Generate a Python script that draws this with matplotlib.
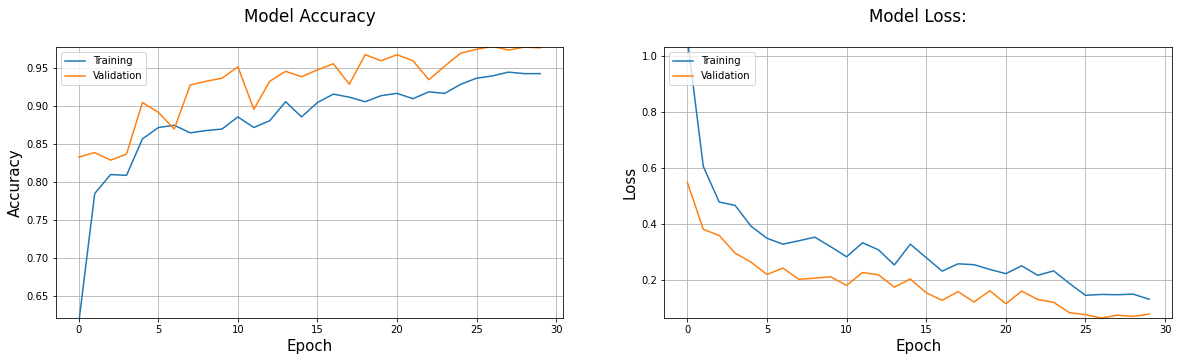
import matplotlib
matplotlib.use('Agg')
import matplotlib.pyplot as plt

epochs = list(range(30))

train_acc = [0.615, 0.785, 0.810, 0.809, 0.857, 0.872, 0.875, 0.865, 0.868, 0.870,
             0.886, 0.872, 0.881, 0.906, 0.886, 0.905, 0.916, 0.912, 0.906, 0.914,
             0.917, 0.910, 0.919, 0.917, 0.929, 0.937, 0.940, 0.945, 0.943, 0.943]
val_acc = [0.833, 0.839, 0.829, 0.837, 0.905, 0.892, 0.870, 0.928, 0.933, 0.937,
           0.952, 0.896, 0.933, 0.946, 0.939, 0.948, 0.956, 0.929, 0.968, 0.960,
           0.968, 0.960, 0.935, 0.953, 0.970, 0.975, 0.979, 0.974, 0.978, 0.977]

train_loss = [1.06, 0.606, 0.479, 0.467, 0.393, 0.350, 0.329, 0.341, 0.354, 0.320,
              0.284, 0.334, 0.309, 0.255, 0.329, 0.281, 0.233, 0.259, 0.256, 0.239,
              0.224, 0.252, 0.218, 0.234, 0.189, 0.147, 0.150, 0.149, 0.151, 0.133]
val_loss = [0.549, 0.382, 0.360, 0.297, 0.265, 0.221, 0.244, 0.204, 0.208, 0.213,
            0.182, 0.228, 0.220, 0.176, 0.205, 0.156, 0.129, 0.160, 0.123, 0.163,
            0.117, 0.162, 0.132, 0.122, 0.085, 0.078, 0.066, 0.076, 0.072, 0.080]

fig = plt.figure(figsize=(1178 / 72, 362 / 72), dpi=72)

ax1 = fig.add_axes([0.0473, 0.1207, 0.4309, 0.7486])
ax1.plot(epochs, train_acc, label='Training')
ax1.plot(epochs, val_acc, label='Validation')
ax1.set_ylim(0.6206, 0.9777)
ax1.set_title('Model Accuracy', fontsize=16.7, pad=25)
ax1.set_xlabel('Epoch', fontsize=15)
ax1.set_ylabel('Accuracy', fontsize=15)
ax1.grid(True)
ax1.legend(loc='upper left')

ax2 = fig.add_axes([0.5639, 0.1207, 0.4312, 0.7486])
ax2.plot(epochs, train_loss, label='Training')
ax2.plot(epochs, val_loss, label='Validation')
ax2.set_ylim(0.065, 1.030)
ax2.set_title('Model Loss:', fontsize=16.7, pad=25)
ax2.set_xlabel('Epoch', fontsize=15)
ax2.set_ylabel('Loss', fontsize=15)
ax2.grid(True)
ax2.legend(loc='upper left')

fig.savefig('out.png', dpi=72)
